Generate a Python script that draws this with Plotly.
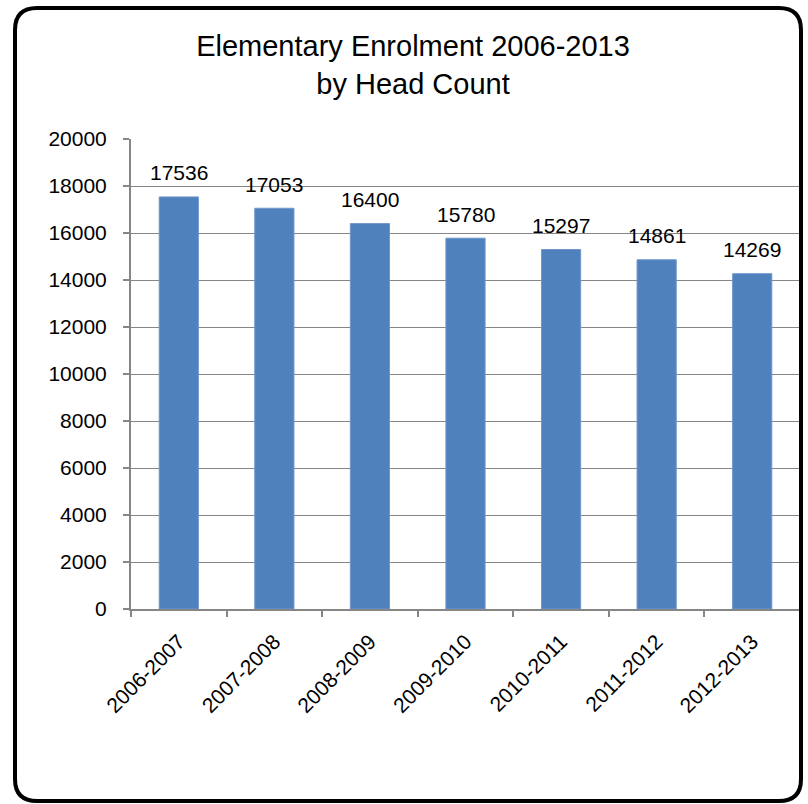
import plotly.graph_objects as go

categories = ["2006-2007", "2007-2008", "2008-2009", "2009-2010", "2010-2011", "2011-2012", "2012-2013"]
enrolment = [17536, 17053, 16400, 15780, 15297, 14861, 14269]
y_ticks = [0, 2000, 4000, 6000, 8000, 10000, 12000, 14000, 16000, 18000, 20000]

FONT = "Liberation Sans, Arial, sans-serif"
W, H = 808, 804
L, R, T, B = 131, 8, 139, 195
PW, PH = W - L - R, H - T - B

def px(x):
    return (x - L) / PW

def py(y):
    return (H - B - y) / PH

fig = go.Figure()
fig.add_trace(go.Bar(
    x=categories, y=enrolment,
    marker=dict(color="#4F81BD", line=dict(color="#6F97CB", width=1)),
    hoverinfo="x+y",
))

for c, v in zip(categories, enrolment):
    fig.add_annotation(x=c, y=v, text=str(v), showarrow=False, yanchor="middle",
                       yshift=24, font=dict(family=FONT, size=21, color="#000000"))

# rounded border
x0, x1, y0, y1, r = 15, 801, 8, 801, 22
path = (f"M {px(x0 + r)},{py(y0)} L {px(x1 - r)},{py(y0)} "
        f"Q {px(x1)},{py(y0)} {px(x1)},{py(y0 + r)} "
        f"L {px(x1)},{py(y1 - r)} Q {px(x1)},{py(y1)} {px(x1 - r)},{py(y1)} "
        f"L {px(x0 + r)},{py(y1)} Q {px(x0)},{py(y1)} {px(x0)},{py(y1 - r)} "
        f"L {px(x0)},{py(y0 + r)} Q {px(x0)},{py(y0)} {px(x0 + r)},{py(y0)} Z")
fig.add_shape(type="path", path=path, xref="paper", yref="paper",
              line=dict(color="#000000", width=4), layer="above")

fig.update_layout(
    width=W, height=H,
    margin=dict(l=L, r=R, t=T, b=B),
    paper_bgcolor="white", plot_bgcolor="white",
    bargap=0.59,
    showlegend=False,
    title=dict(text="Elementary Enrolment 2006-2013<br>by Head Count",
               x=413 / W, xref="container", xanchor="center",
               y=1 - 56 / H, yref="container", yanchor="middle",
               font=dict(family=FONT, size=29, color="#000000")),
    font=dict(family=FONT, color="#000000"),
)
fig.update_xaxes(
    showline=True, linecolor="#868686", linewidth=2,
    ticks="outside", ticklen=6, tickcolor="#868686", tickwidth=1.5,
    tickson="boundaries", tickangle=-45, ticklabelstandoff=10,
    tickfont=dict(family=FONT, size=21, color="#000000"),
    showgrid=False,
)
fig.update_yaxes(
    range=[0, 20000], tickvals=y_ticks, ticktext=[str(t) for t in y_ticks],
    showline=True, linecolor="#868686", linewidth=2,
    ticks="outside", ticklen=6, tickcolor="#868686", tickwidth=1.5,
    ticklabelstandoff=12,
    showgrid=True, gridcolor="#868686", gridwidth=1.3, zeroline=False,
    tickfont=dict(family=FONT, size=21, color="#000000"),
)

fig.write_html("out.html")
